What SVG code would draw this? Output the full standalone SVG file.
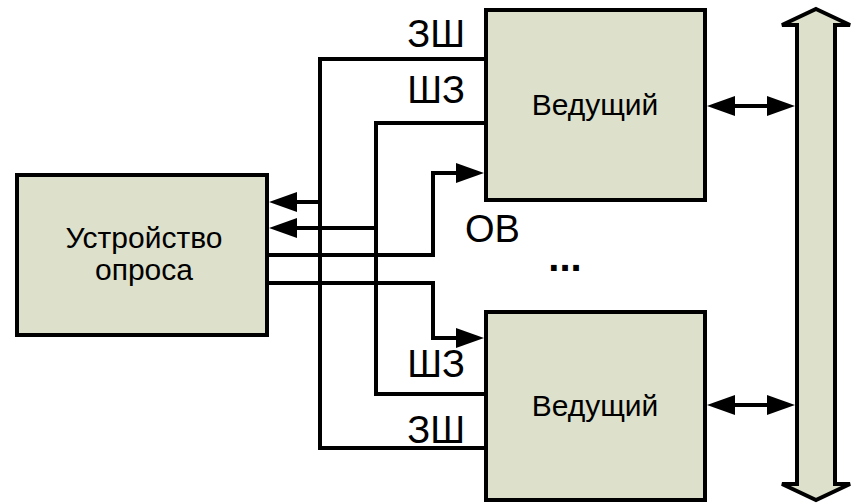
<svg xmlns="http://www.w3.org/2000/svg" width="855" height="504" viewBox="0 0 855 504">
<defs>
<style>
.box{fill:#dde0cb;stroke:#000;stroke-width:4;}
.ln{fill:none;stroke:#000;stroke-width:4;stroke-linejoin:miter;}
.t{font-family:"Liberation Sans",Arial,sans-serif;fill:#000;}
.lab{font-size:38px;}
.nm{font-size:30px;text-anchor:middle;}
</style>
<marker id="ah" markerUnits="userSpaceOnUse" viewBox="0 0 28 20" markerWidth="28" markerHeight="20" refX="0" refY="10" orient="auto-start-reverse">
<path d="M0,0 L28,10 L0,20 z" fill="#000"/>
</marker>
</defs>
<g id="connectors">
<path class="ln" d="M486,59 H320 V448 H486"/>
<path class="ln" d="M486,123 H376 V394 H486"/>
<path class="ln" d="M320,202 H297" marker-end="url(#ah)"/>
<path class="ln" d="M376,228 H297" marker-end="url(#ah)"/>
<path class="ln" d="M267,255 H433 V173 H456" marker-end="url(#ah)"/>
<path class="ln" d="M267,283 H433 V338 H456" marker-end="url(#ah)"/>
<path class="ln" d="M735,106 H767" marker-start="url(#ah)" marker-end="url(#ah)"/>
<path class="ln" d="M735,405 H767" marker-start="url(#ah)" marker-end="url(#ah)"/>
</g>
<g id="labels">
<text class="t lab" x="465" y="47" text-anchor="end">ЗШ</text>
<text class="t lab" x="465" y="103" text-anchor="end">ШЗ</text>
<text class="t lab" x="465" y="242">ОВ</text>
<text class="t lab" x="465" y="377" text-anchor="end">ШЗ</text>
<text class="t lab" x="465" y="443" text-anchor="end">ЗШ</text>
<text class="t" x="565" y="271" text-anchor="middle" font-size="40" font-weight="bold">...</text>
</g>
<g id="poll">
<rect class="box" x="17" y="175" width="250" height="160"/>
<text class="t nm" x="144" y="248" font-size="29.5">Устройство</text>
<text class="t nm" x="144" y="280" font-size="29.5">опроса</text>
</g>
<g id="master1">
<rect class="box" x="486" y="10" width="219" height="190"/>
<text class="t nm" x="595" y="115">Ведущий</text>
</g>
<g id="master2">
<rect class="box" x="486" y="312" width="219" height="188"/>
<text class="t nm" x="595" y="416">Ведущий</text>
</g>
<g id="bus">
<polygon class="box" stroke-linejoin="miter" points="816,9 850,25 835,25 835,484 850,484 816,500 782,484 797,484 797,25 782,25"/>
</g>
</svg>
